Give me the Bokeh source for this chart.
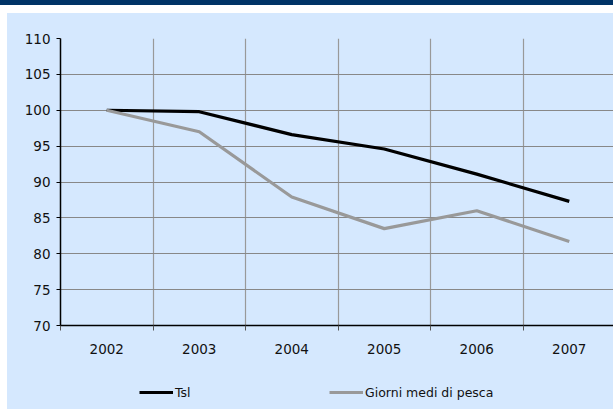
from bokeh.plotting import figure
from bokeh.models import Range1d, FixedTicker, Legend, LegendItem, Div, Spacer
from bokeh.layouts import column, row
from bokeh.embed import file_html
from bokeh.resources import INLINE

years = ["2002", "2003", "2004", "2005", "2006", "2007"]
tsl = [100.0, 99.8, 96.6, 94.6, 91.1, 87.3]
giorni = [100.0, 97.0, 87.9, 83.5, 86.0, 81.7]
y_ticks = [70, 75, 80, 85, 90, 95, 100, 105, 110]
series_names = ["Tsl", "Giorni medi di pesca"]

xs = [i + 0.5 for i in range(len(years))]
bg = "#D5E8FE"
tsl_color = "black"
giorni_color = "#999999"

p = figure(width=606, height=357, x_range=Range1d(0, 5.978), y_range=Range1d(70, 110),
           output_backend="svg", toolbar_location=None,
           min_border_left=53, min_border_top=25, min_border_bottom=45, min_border_right=0)
p.background_fill_color = bg
p.border_fill_color = bg
p.outline_line_color = None

p.line(xs, tsl, line_color=tsl_color, line_width=3.2)
p.line(xs, giorni, line_color=giorni_color, line_width=3.2)

# x axis: labels at centres, tick marks and grid at category boundaries
p.xaxis.ticker = FixedTicker(ticks=xs, minor_ticks=list(range(len(years) + 1)))
p.xaxis.major_label_overrides = {x: y for x, y in zip(xs, years)}
p.xaxis.major_tick_out = 0
p.xaxis.major_tick_in = 0
p.xaxis.minor_tick_out = 5
p.xaxis.minor_tick_in = 0
p.xaxis.minor_tick_line_color = "#555555"
p.xaxis.axis_line_color = "black"
p.xaxis.axis_line_width = 1.5
p.xaxis.major_label_standoff = 13
p.xgrid.ticker = FixedTicker(ticks=list(range(len(years) + 1)))
p.xgrid.grid_line_color = "#999999"
p.xgrid.grid_line_width = 1.2

p.yaxis.ticker = FixedTicker(ticks=y_ticks)
p.yaxis.major_tick_out = 4
p.yaxis.major_tick_in = 0
p.yaxis.minor_tick_line_color = None
p.yaxis.axis_line_color = "black"
p.yaxis.axis_line_width = 1.5
p.yaxis.major_label_standoff = 6
p.ygrid.grid_line_color = "#888888"
p.ygrid.grid_line_width = 1.2

for ax in (p.xaxis, p.yaxis):
    ax.major_label_text_font = "DejaVu Sans"
    ax.major_label_text_font_size = "13.5px"
    ax.major_label_text_color = "#111111"

# legend strip below the chart
p2 = figure(width=606, height=39, x_range=Range1d(0, 1), y_range=Range1d(0, 1),
            x_axis_type=None, y_axis_type=None, output_backend="svg", toolbar_location=None,
            min_border_left=53, min_border_right=0, min_border_top=0, min_border_bottom=0)
p2.background_fill_color = bg
p2.border_fill_color = bg
p2.outline_line_color = None
p2.grid.visible = False
d1 = p2.line([-10, -9], [-10, -9], line_color=tsl_color, line_width=3.2)
d2 = p2.line([-10, -9], [-10, -9], line_color=giorni_color, line_width=3.2)

legend = Legend(items=[LegendItem(label=series_names[0], renderers=[d1]),
                       LegendItem(label=series_names[1], renderers=[d2])],
                location=(79, 9), orientation="horizontal")
legend.background_fill_alpha = 0
legend.border_line_color = None
legend.padding = 0
legend.margin = 0
legend.spacing = 134
legend.glyph_width = 34
legend.glyph_height = 16
legend.label_height = 16
legend.label_standoff = 2
legend.label_text_font = "DejaVu Sans"
legend.label_text_font_size = "12.5px"
legend.label_text_color = "#111111"
p2.add_layout(legend)

band = Div(text="", width=613, height=5, margin=0, styles={"background-color": "#003366"})
inner = column(p, p2, styles={"background-color": bg})
layout = column(band, Spacer(width=613, height=8, margin=0),
                row(Spacer(width=7, height=396, margin=0), inner))

open("out.html", "w").write(file_html(layout, INLINE))
